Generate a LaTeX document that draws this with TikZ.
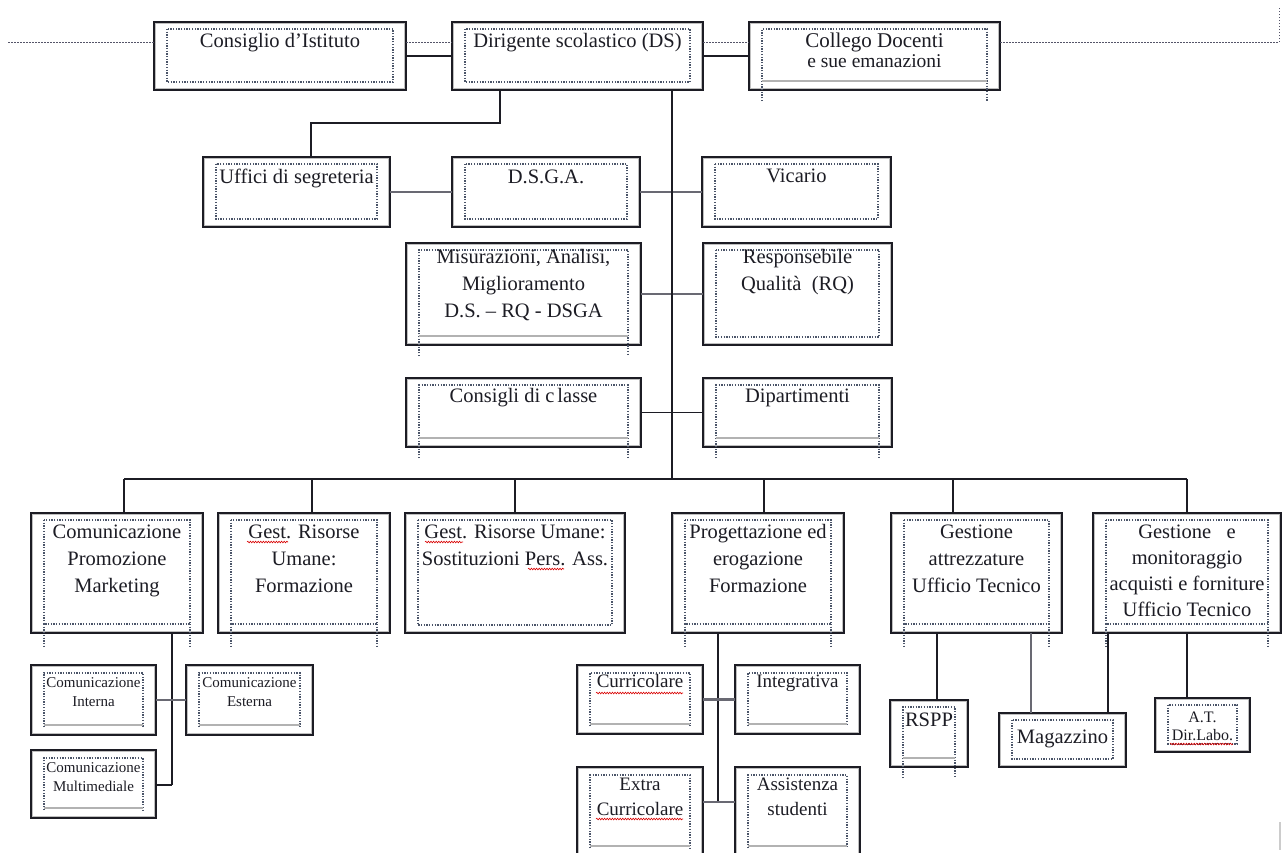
\documentclass[tikz,border=0pt]{standalone}
\usepackage{fontspec}
\setmainfont{Liberation Serif}
\usetikzlibrary{decorations.pathmorphing}
\definecolor{ink}{RGB}{28,28,36}
\definecolor{dotc}{RGB}{75,85,105}
\definecolor{dotl}{RGB}{85,85,105}
\definecolor{grayc}{RGB}{105,105,115}
\newcommand\fN{\fontsize{20.5}{27}\selectfont}
\newcommand\fS{\fontsize{15}{19}\selectfont}
\newcommand\fM{\fontsize{19}{25}\selectfont}
\newcommand\fT{\fontsize{16}{18}\selectfont}
% name, x1, y1, x2, y2, inner style, font, baseline offset, text
\newcommand\orgbox[9]{%
  \pgfmathsetmacro\bxcx{(#2+#4)/2}%
  \pgfmathsetmacro\bxcy{(#3+#5)/2}%
  \pgfmathsetmacro\bxw{#4-#2}%
  \pgfmathsetmacro\bxh{#5-#3}%
  \node[obox, minimum width=\bxw pt, minimum height=\bxh pt] (#1) at (\bxcx,\bxcy) {};
  \draw[oboxin] (#2+1.8,#3+1.8) rectangle (#4-1.8,#5-1.8);
  \ifcase#6\relax
    \draw[idot] (#2+13,#3+7) rectangle (#4-13,#5-8);
  \or
    \draw[idot] (#2+13,#5+11) -- (#2+13,#3+7) -- (#4-13,#3+7) -- (#4-13,#5+11);
    \draw[igray] (#2+13,#5-9) -- (#4-13,#5-9);
  \or
    \draw[idot] (#2+13,#3+7) rectangle (#4-13,#5-9);
    \draw[idot] (#2+13,#5-9) -- (#2+13,#5+13) (#4-13,#5-9) -- (#4-13,#5+13);
  \or
    \draw[idot] (#2+13,#5-8) -- (#2+13,#3+8) -- (#4-13,#3+8) -- (#4-13,#5-8);
    \draw[igray] (#2+13,#5-10) -- (#4-13,#5-10);
  \fi
  \node[lbl, font={#7}, anchor=north] (#1-t) at (\bxcx,#3+#8-15) {\rule{0pt}{15pt}#9};
}
\begin{document}
\begin{tikzpicture}[x=1pt,y=-1pt,
  obox/.style={draw=ink, line width=1.8pt, fill=white, inner sep=0pt, outer sep=0pt},
  oboxin/.style={draw=gray!50, line width=1pt},
  idot/.style={draw=dotc, line width=1.1pt, dash pattern=on 1.3pt off 1.4pt},
  igray/.style={draw=gray!60, line width=1.4pt},
  dotline/.style={draw=dotl, line width=1pt, dash pattern=on 1.5pt off 1.5pt},
  conn/.style={draw=ink, line width=1.8pt},
  connG/.style={draw=grayc, line width=2.6pt},
  wavy/.style={draw=red!85!black, line width=0.6pt, decorate, decoration={snake, amplitude=0.8pt, segment length=2.6pt}},
  lbl/.style={align=center, inner sep=0pt, text=ink}]
\useasboundingbox (0,0) rectangle (1282,852);
\fill[white] (0,0) rectangle (1282,852);

% row 1
\orgbox{cons}{154}{22}{406}{90}{0}{\fN}{25}{Consiglio d’Istituto}
\orgbox{ds}{452}{22}{703}{90}{0}{\fN}{25}{Dirigente scolastico (DS)}
\orgbox{coll}{749}{22}{1000}{90}{1}{\fontsize{21}{27}\selectfont}{25}{Collego Docenti\\[-7pt]{\fontsize{19.5}{20}\selectfont e sue emanazioni}}
% row 2
\orgbox{uff}{203}{157}{390}{227}{0}{\fN}{26}{Uffici di segreteria}
\orgbox{dsga}{452}{157}{640}{227}{0}{\fN}{26}{D.S.G.A.}
\orgbox{vic}{702}{157}{891}{227}{0}{\fN}{25}{Vicario}
% row 3
\orgbox{mis}{406}{243}{641}{345}{1}{\fN}{20}{Misurazioni, Analisi,\\Miglioramento\\D.S. – RQ - DSGA}
\orgbox{resp}{703}{243}{892}{345}{0}{\fN}{20}{Responsebile\\Qualità\ \ (RQ)}
% row 4
\orgbox{ccl}{406}{378}{641}{447}{1}{\fN}{24}{Consigli di c\kern3pt lasse}
\orgbox{dip}{703}{378}{892}{447}{1}{\fN}{24}{Dipartimenti}
% row 5
\orgbox{com}{31}{513}{203}{633}{2}{\fN}{25}{Comunicazione\\Promozione\\Marketing}
\orgbox{gform}{218}{513}{390}{633}{2}{\fN}{25}{Gest. Risorse\\Umane:\\Formazione}
\orgbox{sost}{405}{513}{625}{633}{0}{\fN}{25}{Gest. Risorse Umane:\\Sostituzioni Pers. Ass.}
\orgbox{prog}{672}{513}{844}{633}{2}{\fN}{25}{Progettazione ed\\erogazione\\Formazione}
\orgbox{gatt}{891}{513}{1062}{633}{2}{\fN}{25}{Gestione\\attrezzature\\Ufficio Tecnico}
\orgbox{gmon}{1093}{513}{1281}{633}{2}{\fontsize{20.5}{26}\selectfont}{25}{Gestione\ \ \ e\\monitoraggio\\acquisti e forniture\\Ufficio Tecnico}
% sub boxes
\orgbox{int}{31}{665}{156}{735}{3}{\fS}{22}{Comunicazione\\Interna}
\orgbox{ext}{186}{665}{313}{735}{3}{\fS}{22}{Comunicazione\\Esterna}
\orgbox{mul}{31}{750}{156}{818}{3}{\fS}{22}{Comunicazione\\Multimediale}
\orgbox{curr}{577}{665}{703}{734}{3}{\fM}{22}{Curricolare}
\orgbox{integr}{735}{665}{860}{734}{3}{\fM}{22}{Integrativa}
\orgbox{extra}{577}{767}{703}{856}{3}{\fM}{23}{Extra\\Curricolare}
\orgbox{assist}{735}{767}{860}{856}{3}{\fM}{23}{Assistenza\\studenti}
\orgbox{rspp}{890}{700}{968}{767}{1}{\fN}{26}{RSPP}
\orgbox{mag}{999}{713}{1126}{767}{0}{\fN}{30}{Magazzino}
\orgbox{at}{1155}{698}{1250}{752}{0}{\fT}{24}{A.T.\\Dir.Labo.}

% dotted top line
\coordinate (ydot) at (0,42);
\coordinate (lend) at (8,42);
\coordinate (rcor) at (1279,42);
\coordinate (rend) at (1279,8);
\draw[dotline] (lend) -- (cons.west |- ydot);
\draw[dotline] (cons.east |- ydot) -- (ds.west |- ydot);
\draw[dotline] (ds.east |- ydot) -- (coll.west |- ydot);
\draw[dotline] (coll.east |- ydot) -- (rcor) -- (rend);
% top connectors
\draw[conn] (cons.east) -- (ds.west);
\draw[conn] (ds.east) -- (coll.west);
\coordinate (k1) at (500,123);
\coordinate (k2) at (311,123);
\draw[conn] (ds.south -| k1) -- (k1) -- (k2) -- (uff.north -| k2);
\draw[connG] (uff.east) -- (dsga.west);
\draw[connG] (dsga.east) -- (vic.west);
\draw[connG] (mis.east) -- (resp.west);
\draw[conn] (ccl.east) -- (dip.west);
\coordinate (tr) at (672,479);
\draw[conn] (ds.south -| tr) -- (tr);
% bus
\coordinate (b1) at (124,479);
\coordinate (b2) at (312,479);
\coordinate (b3) at (515,479);
\coordinate (b4) at (764,479);
\coordinate (b5) at (953,479);
\coordinate (b6) at (1187,479);
\draw[conn] (b1) -- (b6);
\foreach \b/\n in {b1/com,b2/gform,b3/sost,b4/prog,b5/gatt,b6/gmon}
  \draw[conn] (\b) -- (\n.north -| \b);
% comunicazione subtree
\coordinate (cj) at (172,785);
\draw[conn] (com.south -| cj) -- (cj);
\draw[connG] (int.east) -- (ext.west);
\draw[conn] (mul.east |- cj) -- (cj);
% progettazione subtree
\coordinate (pj) at (718,802);
\draw[conn] (prog.south -| pj) -- (pj);
\draw[connG] (curr.east) -- (integr.west);
\draw[connG] (extra.east |- pj) -- (assist.west |- pj);
% gestione subtrees
\coordinate (g1) at (937,0);
\coordinate (g2) at (1031,0);
\coordinate (g3) at (1108,0);
\coordinate (g4) at (1187,0);
\draw[conn] (gatt.south -| g1) -- (rspp.north -| g1);
\draw[connG] (gatt.south -| g2) -- (mag.north -| g2);
\draw[conn] (gmon.south -| g3) -- (mag.north -| g3);
\draw[conn] (gmon.south -| g4) -- (at.north -| g4);

% spell-check underlines
\draw[wavy] (247,542) -- (288,542);
\draw[wavy] (425,542) -- (463,542);
\draw[wavy] (528,569) -- (564,569);
\draw[wavy] (596,693) -- (683,693);
\draw[wavy] (596,819) -- (683,819);
\draw[wavy] (1170,744) -- (1233,744);
% corner mark
\draw[gray!40, line width=1.2pt] (1280,822) -- (1280,850);
\end{tikzpicture}
\end{document}
